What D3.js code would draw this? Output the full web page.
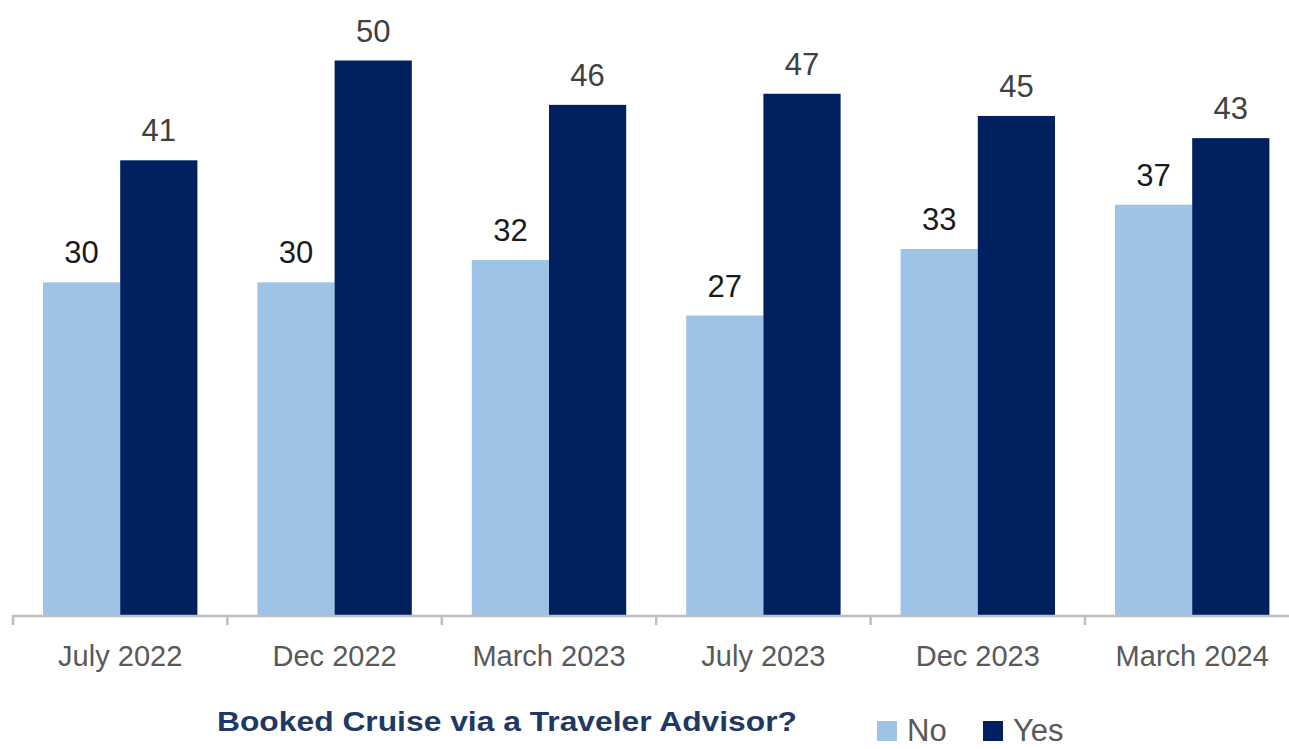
<!DOCTYPE html>
<html>
<head>
<meta charset="utf-8">
<script src="https://cdn.jsdelivr.net/npm/d3@7"></script>
<style>
html,body{margin:0;padding:0;background:#fff;}
svg{display:block;}
</style>
</head>
<body>
<svg id="chart" width="1289" height="749"></svg>
<script>
const categories = ["July 2022","Dec 2022","March 2023","July 2023","Dec 2023","March 2024"];
const seriesNames = ["No","Yes"];
const noValues = [30,30,32,27,33,37];
const yesValues = [41,50,46,47,45,43];
const seriesColors = ["#9DC3E6","#002060"];
const titleText = "Booked Cruise via a Traveler Advisor?";

const data = categories.map((c,i)=>({cat:c, No:noValues[i], Yes:yesValues[i]}));

const svg = d3.select("#chart");
const baseY = 615;
const bandW = 214.4;
const x0 = d3.scaleBand().domain(categories).range([13, 13 + bandW*categories.length]).padding(0);
const x1 = d3.scaleBand().domain(seriesNames).range([30, bandW-30]).padding(0);
const y = d3.scaleLinear().domain([0,50]).range([baseY, baseY - 50*11.09]);

// bars
const groups = svg.append("g").selectAll("g").data(data).join("g")
  .attr("transform", d=>`translate(${x0(d.cat)},0)`);
groups.selectAll("rect").data(d=>seriesNames.map((s,j)=>({s, v:d[s], j}))).join("rect")
  .attr("x", d=>x1(d.s))
  .attr("width", x1.bandwidth())
  .attr("y", d=>y(d.v))
  .attr("height", d=>baseY - y(d.v))
  .attr("fill", d=>seriesColors[d.j]);
groups.selectAll("text").data(d=>seriesNames.map((s,j)=>({s, v:d[s], j}))).join("text")
  .attr("x", d=>x1(d.s)+x1.bandwidth()/2)
  .attr("y", d=>y(d.v)-19)
  .attr("text-anchor","middle")
  .attr("font-family","Liberation Sans, Arial, sans-serif")
  .attr("font-size", 31)
  .attr("fill", d=>d.j===0 ? "#1a1a1a" : "#404040")
  .text(d=>d.v);

// axis
const axis = d3.axisBottom(x0).tickSize(0).tickPadding(0);
const ax = svg.append("g").attr("transform",`translate(0,${baseY})`).call(axis);
ax.select(".domain").remove();
ax.selectAll("text")
  .attr("y", 51)
  .attr("dy", null)
  .attr("font-family","Liberation Sans, Arial, sans-serif")
  .attr("font-size", 29)
  .attr("fill","#595959");
svg.append("line").attr("x1",13).attr("x2",1289).attr("y1",baseY+1).attr("y2",baseY+1)
  .attr("stroke","#BFBFBF").attr("stroke-width",2.5);
const boundaries = categories.map(c=>x0(c));
svg.append("g").selectAll("line").data(boundaries).join("line")
  .attr("x1",d=>d).attr("x2",d=>d).attr("y1",baseY).attr("y2",baseY+10)
  .attr("stroke","#BFBFBF").attr("stroke-width",2.5);

// title
svg.append("text").attr("x",217).attr("y",731)
  .attr("font-family","Liberation Sans, Arial, sans-serif")
  .attr("font-weight","bold").attr("font-size",27)
  .attr("fill","#1F3864")
  .attr("textLength",580).attr("lengthAdjust","spacingAndGlyphs")
  .text(titleText);

// legend
const legX = [877, 983];
const leg = svg.append("g").selectAll("g").data(seriesNames).join("g")
  .attr("transform",(d,i)=>`translate(${legX[i]},0)`);
leg.append("rect").attr("x",0).attr("y",721).attr("width",20).attr("height",20)
  .attr("fill",(d,i)=>seriesColors[i]);
leg.append("text").attr("x",30).attr("y",741)
  .attr("font-family","Liberation Sans, Arial, sans-serif")
  .attr("font-size",31).attr("fill","#595959")
  .text(d=>d);
</script>
</body>
</html>
